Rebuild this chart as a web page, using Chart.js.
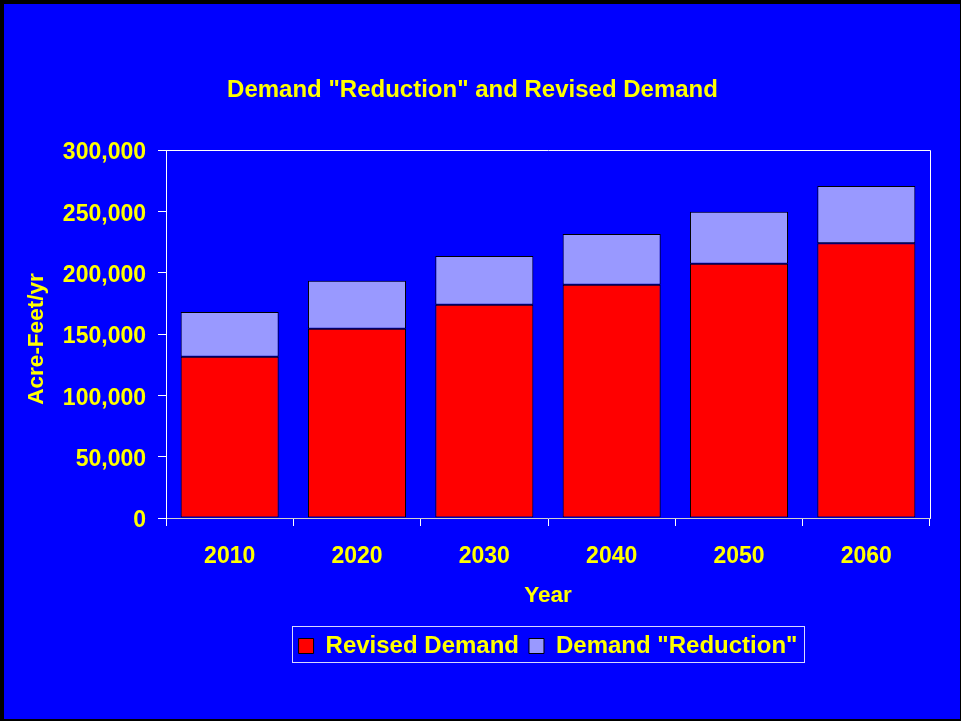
<!DOCTYPE html>
<html>
<head>
<meta charset="utf-8">
<style>
  html, body { margin: 0; padding: 0; background: #000; }
  canvas { display: block; }
</style>
<script src="https://cdn.jsdelivr.net/npm/chart.js@4"></script>
</head>
<body>
<canvas id="c" width="961" height="721"></canvas>
<script>
const categories = ['2010', '2020', '2030', '2040', '2050', '2060'];
const revisedDemand = [131500, 154300, 173900, 190200, 207300, 223900];
const demandReduction = [36400, 39200, 39700, 41300, 42400, 46700];
const yTicks = [0, 50000, 100000, 150000, 200000, 250000, 300000];
const chartTitle = 'Demand "Reduction" and Revised Demand';
const yAxisTitle = 'Acre-Feet/yr';
const xAxisTitle = 'Year';

const FONT = '"Liberation Sans", Arial, Helvetica, sans-serif';
const YELLOW = '#FFFF00';

const backgroundPlugin = {
  id: 'bg',
  beforeDraw(chart) {
    const ctx = chart.ctx;
    ctx.save();
    ctx.fillStyle = '#000000';
    ctx.fillRect(0, 0, chart.width, chart.height);
    ctx.fillStyle = '#0000FF';
    ctx.fillRect(4, 4, 956, 715);
    ctx.restore();
  }
};

const decorPlugin = {
  id: 'decor',
  afterDraw(chart) {
    const ctx = chart.ctx;
    const a = chart.chartArea;
    ctx.save();
    // plot frame top & right
    ctx.strokeStyle = '#FFFFFF';
    ctx.lineWidth = 1;
    ctx.beginPath();
    ctx.moveTo(Math.round(a.left) + 0.5, Math.round(a.top) + 0.5);
    ctx.lineTo(Math.round(a.right) + 0.5, Math.round(a.top) + 0.5);
    ctx.lineTo(Math.round(a.right) + 0.5, Math.round(a.bottom) + 0.5);
    ctx.stroke();
    // chart title
    ctx.fillStyle = YELLOW;
    ctx.font = 'bold 24px ' + FONT;
    ctx.textAlign = 'center';
    ctx.textBaseline = 'middle';
    ctx.fillText(chartTitle, 472.5, 90);
    // y axis title
    ctx.save();
    ctx.translate(36.5, (a.top + a.bottom) / 2 + 5);
    ctx.rotate(-Math.PI / 2);
    ctx.font = 'bold 22.5px ' + FONT;
    ctx.fillText(yAxisTitle, 0, 0);
    ctx.restore();
    // legend frame
    const lg = chart.legend;
    if (lg && lg.legendHitBoxes && lg.legendHitBoxes.length) {
      const hb = lg.legendHitBoxes;
      const first = hb[0], last = hb[hb.length - 1];
      const l = Math.round(first.left - 7) + 0.5;
      const r = Math.round(last.left + last.width + 7) + 0.5;
      const t = Math.round(first.top - 8) + 0.5;
      const b = t + 36;
      ctx.strokeStyle = '#D8D8FF';
      ctx.lineWidth = 1;
      ctx.strokeRect(l, t, r - l, b - t);
    }
    ctx.restore();
  }
};

new Chart(document.getElementById('c'), {
  type: 'bar',
  data: {
    labels: categories,
    datasets: [
      {
        label: 'Revised Demand',
        data: revisedDemand,
        backgroundColor: '#FF0000',
        borderColor: '#000000',
        borderWidth: 1,
        borderSkipped: false
      },
      {
        label: 'Demand "Reduction"',
        data: demandReduction,
        backgroundColor: '#9999FF',
        borderColor: '#000000',
        borderWidth: 1,
        borderSkipped: false
      }
    ]
  },
  options: {
    responsive: false,
    animation: false,
    devicePixelRatio: 1,
    layout: { padding: { left: 0, right: 31, top: 150, bottom: 53 } },
    datasets: { bar: { categoryPercentage: 1.0, barPercentage: 0.77 } },
    plugins: {
      title: { display: false },
      tooltip: { enabled: false },
      legend: {
        display: true,
        position: 'bottom',
        fullSize: false,
        labels: {
          color: YELLOW,
          font: { family: FONT, size: 24, weight: 'bold' },
          boxWidth: 15,
          boxHeight: 15,
          padding: 10
        }
      }
    },
    scales: {
      x: {
        stacked: true,
        grid: { display: true, drawOnChartArea: false, drawTicks: true, tickLength: 8, color: '#FFFFFF', offset: true },
        border: { display: true, color: '#D0D0D0', width: 1 },
        ticks: { color: YELLOW, font: { family: FONT, size: 23, weight: 'bold' }, padding: 17, maxRotation: 0 },
        title: { display: true, text: xAxisTitle, color: YELLOW, font: { family: FONT, size: 22.5, weight: 'bold' }, padding: { top: 0, bottom: 15 } },
        afterFit(scale) { scale.height = 106; }
      },
      y: {
        stacked: true,
        min: 0,
        max: 300000,
        afterBuildTicks(scale) { scale.ticks = yTicks.map(v => ({ value: v })); },
        grid: { display: true, drawOnChartArea: false, drawTicks: true, tickLength: 8, color: '#FFFFFF' },
        border: { display: true, color: '#FFFFFF', width: 1 },
        ticks: {
          color: YELLOW,
          font: { family: FONT, size: 23, weight: 'bold' },
          padding: 12,
          labelOffset: 3,
          callback: (v) => Number(v).toLocaleString('en-US')
        },
        title: { display: false },
        afterFit(scale) { scale.width = 166; }
      }
    }
  },
  plugins: [backgroundPlugin, decorPlugin]
});
</script>
</body>
</html>
